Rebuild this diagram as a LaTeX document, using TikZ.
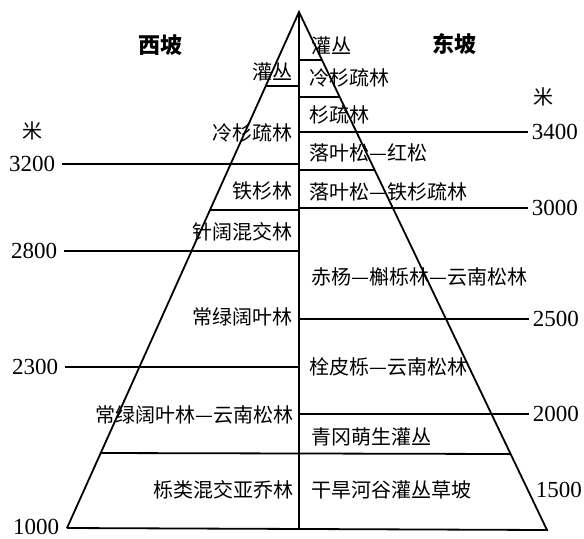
\documentclass[tikz,border=0pt]{standalone}
\usepackage{fontspec}
\setmainfont{Liberation Serif}
\newfontfamily\cjk{Noto Sans CJK SC}
\usetikzlibrary{calc, positioning}

\begin{document}
\begin{tikzpicture}[
  x=0.5pt, y=-0.5pt,
  line width=0.9pt,
  zone/.style={font=\cjk\fontsize{10}{12}\selectfont, inner sep=1pt},
  wzone/.style={zone, anchor=east},
  ezone/.style={zone, anchor=west},
  alt/.style={font=\fontsize{11.5}{14}\selectfont, inner sep=1.5pt},
  unit/.style={font=\cjk\fontsize{10}{12}\selectfont, inner sep=0pt},
  side/.style={font=\cjk\bfseries\fontsize{11}{13}\selectfont, inner sep=0pt}
]
\useasboundingbox (0,0) rectangle (584,538);

\coordinate (apex) at (299,12);
\coordinate (bl) at (67,528);
\coordinate (br) at (547,530);
\coordinate (bc) at (299,529);

% outline of the mountain and the divide
\draw (bl) -- (apex) -- (br) -- (bl);
\draw (apex) -- (bc);

% zone limits inside the slopes
\foreach \y in {86,210}
  \draw ($(apex)!{(\y-12)/516}!(bl)$) -- (299,\y);
\foreach \y in {60,97,170}
  \draw (299,\y) -- ($(apex)!{(\y-12)/518}!(br)$);
\draw ($(apex)!{441/516}!(bl)$) -- ($(apex)!{442/518}!(br)$);

% altitude marks, west
\node[side] (west) at (160,45) {西坡};
\node[unit] (wunit) at (33,131) {米};
\node[alt, anchor=east, inner sep=3pt] (w3200) at (62,164) {3200};
\node[alt, anchor=east, inner sep=3pt] (w2800) at (64,251) {2800};
\node[alt, anchor=east, inner sep=3pt] (w2300) at (65,367) {2300};
\node[alt, anchor=east, inner sep=3pt] (w1000) at (66,527) {1000};
\draw (w3200) -- (w3200 -| apex);
\draw (w2800) -- (w2800 -| apex);
\draw (w2300) -- (w2300 -| apex);

% altitude marks, east
\node[side] (east) at (454,44) {东坡};
\node[unit] (eunit) at (543,97) {米};
\node[alt, anchor=west] (e3400) at (528,132) {3400};
\node[alt, anchor=west] (e3000) at (528,208) {3000};
\node[alt, anchor=west] (e2500) at (529,319) {2500};
\node[alt, anchor=west] (e2000) at (529,414) {2000};
\node[alt, anchor=west] (e1500) at (532,490) {1500};
\draw (e3400 -| apex) -- (e3400);
\draw (e3000 -| apex) -- (e3000);
\draw (e2500 -| apex) -- (e2500);
\draw (e2000 -| apex) -- (e2000);

% west slope belts
\node[wzone] (wa) at (295,72) {灌丛};
\node[wzone] (wb) at (295,133) {冷杉疏林};
\node[wzone] (wc) at (295,191) {铁杉林};
\node[wzone] (wd) at (295,232) {针阔混交林};
\node[wzone] (we) at (295,317) {常绿阔叶林};
\node[wzone] (wf) at (296,415) {常绿阔叶林—云南松林};
\node[wzone] (wg) at (296,490) {栎类混交亚乔林};

% east slope belts
\node[ezone] (ea) at (309,46) {灌丛};
\node[ezone] (eb) at (307,78) {冷杉疏林};
\node[ezone] (ec) at (307,115) {杉疏林};
\node[ezone] (ed) at (307,153) {落叶松—红松};
\node[ezone] (ee) at (307,192) {落叶松—铁杉疏林};
\node[ezone] (ef) at (309,277) {赤杨—槲栎林—云南松林};
\node[ezone] (eg) at (307,367) {栓皮栎—云南松林};
\node[ezone] (eh) at (309,437) {青冈萌生灌丛};
\node[ezone] (ei) at (309,490) {干旱河谷灌丛草坡};

\end{tikzpicture}
\end{document}
